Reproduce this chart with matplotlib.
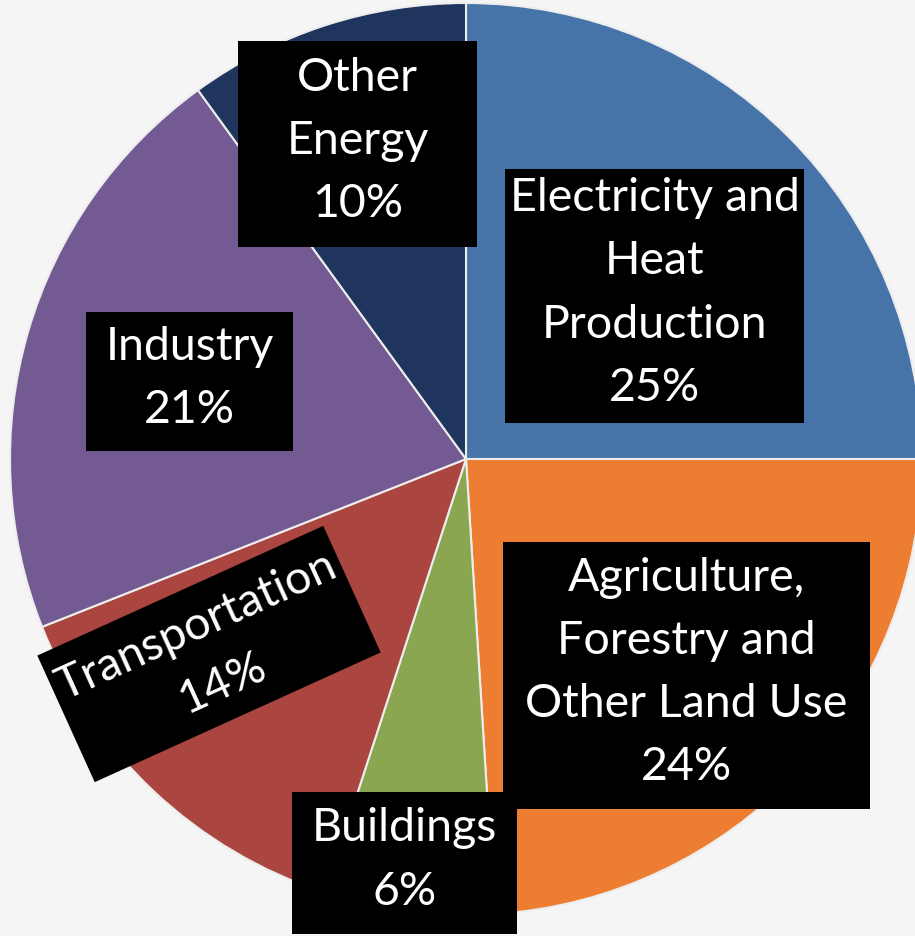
import matplotlib
matplotlib.use("Agg")
import matplotlib.pyplot as plt
from matplotlib.patches import Rectangle
import matplotlib.transforms as mtransforms

categories = ["Electricity and\nHeat\nProduction", "Agriculture,\nForestry and\nOther Land Use",
              "Buildings", "Transportation", "Industry", "Other\nEnergy"]
values = [25, 24, 6, 14, 21, 10]
colors = ["#4673A8", "#ED7D31", "#8AA650", "#AA453F", "#745A92", "#1F355E"]

W, H = 915, 937
fig = plt.figure(figsize=(W / 100, H / 100), dpi=100, facecolor="#F5F5F5")
ax = fig.add_axes([0, 0, 1, 1])
ax.set_facecolor("#F5F5F5")

cx, cy, r = 466, H - 460, 456
ax.pie(values, colors=colors, startangle=90, counterclock=False,
       center=(cx, cy), radius=r,
       wedgeprops=dict(edgecolor="#EDEDED", linewidth=1.5))
ax.set_xlim(0, W)
ax.set_ylim(0, H)
ax.set_aspect("equal")
ax.axis("off")

# label boxes in image pixel coords: (x0, y0_top, x1, y1_bottom)
boxes = [
    (505, 170, 804, 424),
    (503, 543, 870, 810),
    (292, 793, 517, 935),
    None,
    (86, 313, 293, 452),
    (238, 42, 477, 248),
]
font = dict(family=["Lato", "DejaVu Sans"], color="white", fontsize=33.5,
            ha="center", va="center", linespacing=1.62)
for lab, val, b in zip(categories, values, boxes):
    text = f"{lab}\n{val}%"
    if b is None:
        continue
    x0, y0, x1, y1 = b
    ax.add_patch(Rectangle((x0, H - y1), x1 - x0, y1 - y0, facecolor="black",
                           edgecolor="none", zorder=3))
    ax.text((x0 + x1) / 2, H - (y0 + y1) / 2 + 4, text, zorder=4, **font)

# rotated Transportation box
tcx, tcy, tw, th, ang = 209, H - 655, 314, 139, 24.4
idx = 3
rect = Rectangle((tcx - tw / 2, tcy - th / 2), tw, th, facecolor="black",
                 edgecolor="none", zorder=3)
rect.set_transform(mtransforms.Affine2D().rotate_deg_around(tcx, tcy, ang) + ax.transData)
ax.add_patch(rect)
ax.text(tcx, tcy, f"{categories[idx]}\n{values[idx]}%", rotation=ang,
        rotation_mode="anchor", zorder=4, **font)

fig.savefig("out.png", dpi=100, facecolor=fig.get_facecolor())
